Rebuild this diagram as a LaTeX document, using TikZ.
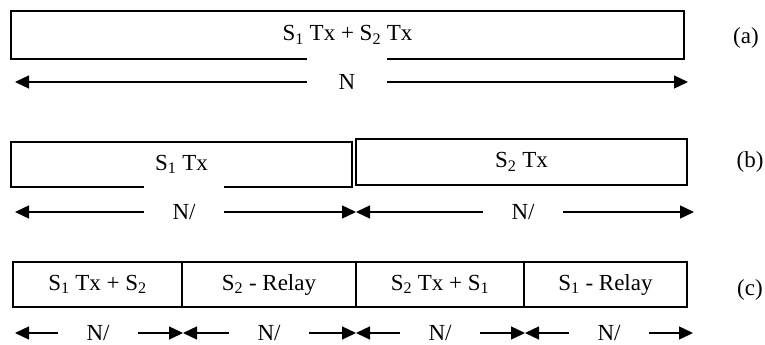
\documentclass[tikz,border=0pt]{standalone}
\usepackage{fontspec}
\setmainfont{Liberation Serif}
\usetikzlibrary{positioning, arrows.meta}

\begin{document}
\begin{tikzpicture}[x=1pt, y=-1pt,
    every node/.style={font=\fontsize{23}{27}\selectfont},
    frame/.style={draw, line width=1.2pt, inner sep=0pt, outer sep=0pt, minimum height=45pt},
    gap/.style={fill=white, inner sep=0pt, minimum width=80pt},
    arrow/.style={-{Triangle[length=14pt, width=13pt]}, line width=1.4pt}]

    \useasboundingbox (0,0) rectangle (765,345);

    % (a) both sources in one slot
    \node[frame, minimum width=673pt, minimum height=48pt] (txBoth) at (347.5,35) {S\textsubscript{1} Tx + S\textsubscript{2} Tx};
    \node[gap, minimum height=50pt] (nA) at (347,82) {N};
    \coordinate (aL) at (15,82);
    \coordinate (aR) at (688,82);
    \draw[arrow] (nA.west) -- (aL);
    \draw[arrow] (nA.east) -- (aR);
    \node (labA) at (746,38) {(a)};

    % (b) two slots
    \node[frame, minimum width=341pt] (txOne) at (181.5,164.5) {S\textsubscript{1} Tx};
    \node[frame, minimum width=331pt, minimum height=46pt] (txTwo) at (521.5,162) {S\textsubscript{2} Tx};
    \node[gap, minimum height=54pt] (nB1) at (184,212) {N/};
    \node[gap, minimum height=20pt] (nB2) at (523,212) {N/};
    \coordinate (bL) at (15,212);
    \coordinate (bM) at (356,212);
    \coordinate (bR) at (694,212);
    \draw[arrow] (nB1.west) -- (bL);
    \draw[arrow] (nB1.east) -- (bM);
    \draw[arrow] (nB2.west) -- (bM);
    \draw[arrow] (nB2.east) -- (bR);
    \node (labB) at (750,162) {(b)};

    % (c) four slots with relaying
    \node[frame, minimum width=169pt] (slotOne) at (97.5,284.5) {S\textsubscript{1} Tx + S\textsubscript{2}};
    \node[frame, minimum width=174pt, right=0pt of slotOne] (slotTwo) {S\textsubscript{2} - Relay};
    \node[frame, minimum width=168pt, right=0pt of slotTwo] (slotThree) {S\textsubscript{2} Tx + S\textsubscript{1}};
    \node[frame, minimum width=163pt, right=0pt of slotThree] (slotFour) {S\textsubscript{1} - Relay};
    \node[gap, minimum height=20pt] (nC1) at (98,333) {N/};
    \node[gap, minimum height=20pt] (nC2) at (269,333) {N/};
    \node[gap, minimum height=20pt] (nC3) at (440,333) {N/};
    \node[gap, minimum height=20pt] (nC4) at (609,333) {N/};
    \coordinate (c0) at (15,333);
    \coordinate (c1) at (183,333);
    \coordinate (c2) at (356,333);
    \coordinate (c3) at (525,333);
    \coordinate (c4) at (693,333);
    \draw[arrow] (nC1.west) -- (c0);
    \draw[arrow] (nC1.east) -- (c1);
    \draw[arrow] (nC2.west) -- (c1);
    \draw[arrow] (nC2.east) -- (c2);
    \draw[arrow] (nC3.west) -- (c2);
    \draw[arrow] (nC3.east) -- (c3);
    \draw[arrow] (nC4.west) -- (c3);
    \draw[arrow] (nC4.east) -- (c4);
    \node (labC) at (750,290) {(c)};

\end{tikzpicture}
\end{document}
